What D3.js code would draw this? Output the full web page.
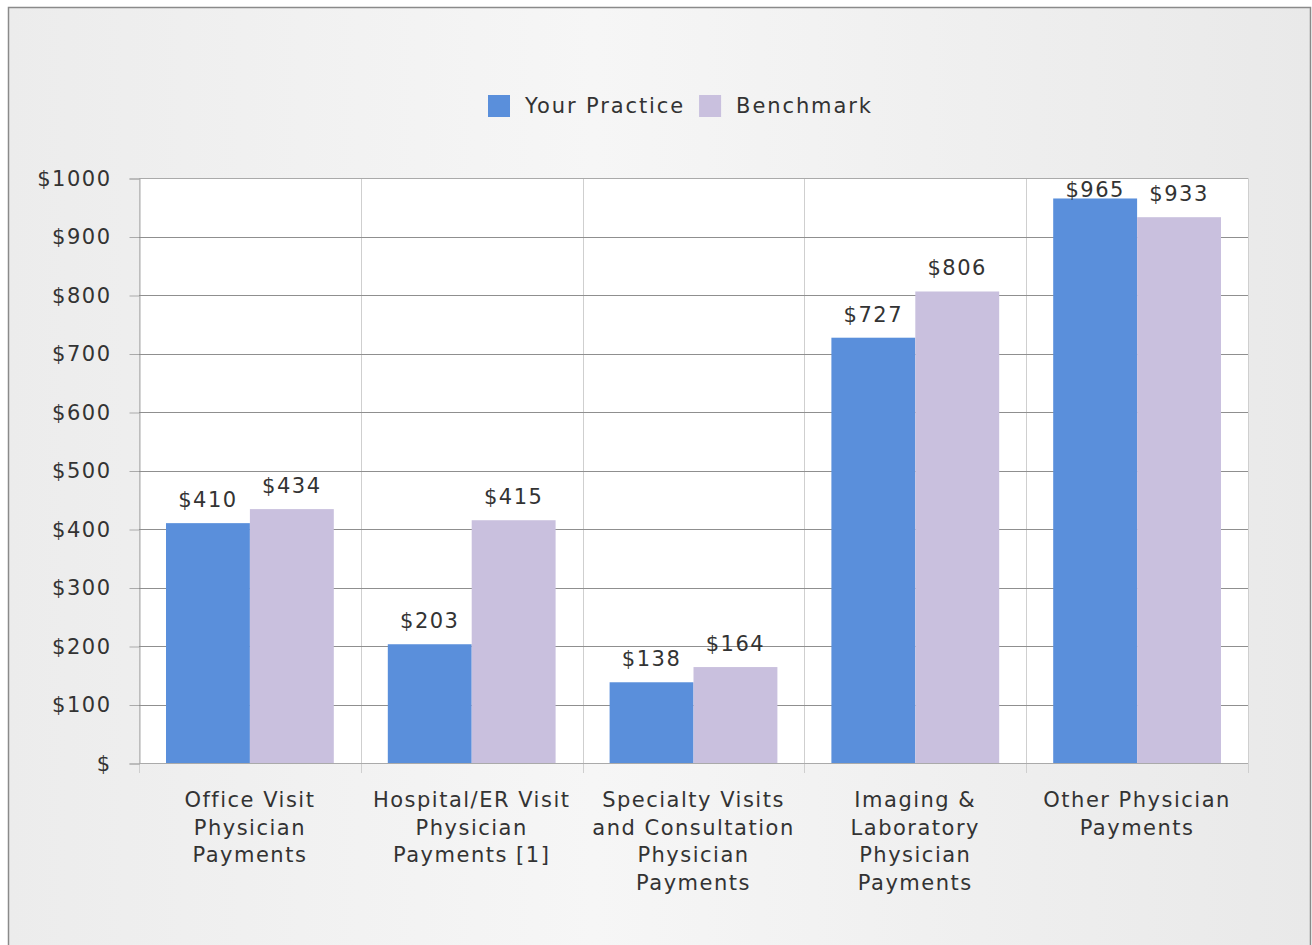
<!DOCTYPE html>
<html>
<head>
<meta charset="utf-8">
<script src="https://cdn.jsdelivr.net/npm/d3@7"></script>
<style>
  body { margin: 0; background: #fff; }
  text { font-family: "DejaVu Sans", Verdana, sans-serif; font-size: 21px; letter-spacing: 1.5px; fill: #333; }
  .legend text { letter-spacing: 1.9px; }
</style>
</head>
<body>
<svg id="chart" width="1312" height="945"></svg>
<script>
const categories = [
  "Office Visit Physician Payments",
  "Hospital/ER Visit Physician Payments [1]",
  "Specialty Visits and Consultation Physician Payments",
  "Imaging & Laboratory Physician Payments",
  "Other Physician Payments"
];
const categoryLines = [
  ["Office Visit", "Physician", "Payments"],
  ["Hospital/ER Visit", "Physician", "Payments [1]"],
  ["Specialty Visits", "and Consultation", "Physician", "Payments"],
  ["Imaging &", "Laboratory", "Physician", "Payments"],
  ["Other Physician", "Payments"]
];
const seriesNames = ["Your Practice", "Benchmark"];
const yourPractice = [410, 203, 138, 727, 965];
const benchmark = [434, 415, 164, 806, 933];
const yTicks = [0, 100, 200, 300, 400, 500, 600, 700, 800, 900, 1000];
const colors = ["#5a8fdb", "#c9c0de"];

const PLOT = { left: 139, top: 178, right: 1248, bottom: 763 };

const svg = d3.select("#chart");

const defs = svg.append("defs");
const grad = defs.append("linearGradient").attr("id", "bg").attr("x1", "0").attr("x2", "1");
grad.append("stop").attr("offset", "0").attr("stop-color", "#ececec");
grad.append("stop").attr("offset", "0.45").attr("stop-color", "#f6f6f6");
grad.append("stop").attr("offset", "1").attr("stop-color", "#e9e9e9");

svg.append("rect")
  .attr("x", 8.5).attr("y", 7.5)
  .attr("width", 1302).attr("height", 950)
  .attr("fill", "url(#bg)")
  .attr("stroke", "#8a8a8a")
  .attr("stroke-width", 1.5);

const y = d3.scaleLinear().domain([0, 1000]).range([PLOT.bottom, PLOT.top]);
const x = d3.scaleBand().domain(categories).range([PLOT.left, PLOT.right]).padding(0);
const inset = 27;
const xs = d3.scaleBand().domain(seriesNames).range([inset, x.bandwidth() - inset]).padding(0);

// plot background
svg.append("rect")
  .attr("x", PLOT.left).attr("y", PLOT.top)
  .attr("width", PLOT.right - PLOT.left).attr("height", PLOT.bottom - PLOT.top)
  .attr("fill", "#fff");

// vertical category dividers (with ticks below axis)
const dividers = categories.map(c => x(c)).concat([PLOT.right]);
svg.append("g").selectAll("line")
  .data(dividers)
  .join("line")
  .attr("x1", d => Math.round(d) + 0.5).attr("x2", d => Math.round(d) + 0.5)
  .attr("y1", PLOT.top).attr("y2", PLOT.bottom + 10)
  .attr("stroke", "#cfcfcf");

// y axis
const yAxis = d3.axisLeft(y)
  .tickValues(yTicks)
  .tickSize(10)
  .tickPadding(18)
  .tickFormat(d => "$" + (d === 0 ? "" : d));

const yg = svg.append("g")
  .attr("transform", `translate(${PLOT.left + 0.5},0.5)`)
  .call(yAxis);
yg.select(".domain").attr("stroke", "#aaa");
yg.selectAll(".tick line").attr("stroke", "#aaa");
yg.selectAll(".tick text").attr("font-size", null).attr("font-family", null).attr("fill", "#333");

// horizontal gridlines
svg.append("g").selectAll("line")
  .data(yTicks)
  .join("line")
  .attr("x1", PLOT.left).attr("x2", PLOT.right)
  .attr("y1", d => Math.round(y(d)) + 0.5).attr("y2", d => Math.round(y(d)) + 0.5)
  .attr("stroke", d => (d === 1000 || d === 0 ? "#aaa" : "#8f8f8f"));

// bars
const rows = categories.map((c, i) => ({ cat: c, values: [yourPractice[i], benchmark[i]] }));

const groups = svg.append("g").selectAll("g")
  .data(rows)
  .join("g")
  .attr("transform", d => `translate(${x(d.cat)},0)`);

groups.selectAll("rect")
  .data(d => d.values.map((v, k) => ({ name: seriesNames[k], value: v, k })))
  .join("rect")
  .attr("x", d => xs(d.name))
  .attr("width", xs.bandwidth())
  .attr("y", d => y(d.value))
  .attr("height", d => y(0) - y(d.value))
  .attr("fill", d => colors[d.k]);

groups.selectAll("text.val")
  .data(d => d.values.map((v, k) => ({ name: seriesNames[k], value: v, k })))
  .join("text")
  .attr("class", "val")
  .attr("x", d => xs(d.name) + xs.bandwidth() / 2)
  .attr("y", d => Math.max(y(d.value) - 16, PLOT.top + 19))
  .attr("text-anchor", "middle")
  .text(d => "$" + d.value);

// category labels
svg.append("g").selectAll("text")
  .data(categories)
  .join("text")
  .attr("text-anchor", "middle")
  .attr("x", d => x(d) + x.bandwidth() / 2)
  .attr("y", 807)
  .each(function (d, i) {
    d3.select(this).selectAll("tspan")
      .data(categoryLines[i])
      .join("tspan")
      .attr("x", x(d) + x.bandwidth() / 2)
      .attr("dy", (t, j) => (j === 0 ? 0 : 27.5))
      .text(t => t);
  });

// legend
const legend = svg.append("g").attr("class", "legend").attr("transform", "translate(488,95)");
let lx = 0;
seriesNames.forEach((name, i) => {
  legend.append("rect")
    .attr("x", lx).attr("y", 0)
    .attr("width", 22).attr("height", 22)
    .attr("fill", colors[i]);
  const t = legend.append("text")
    .attr("x", lx + 37).attr("y", 18)
    .text(name);
  lx += 37 + t.node().getComputedTextLength() + 14;
});
</script>
</body>
</html>
